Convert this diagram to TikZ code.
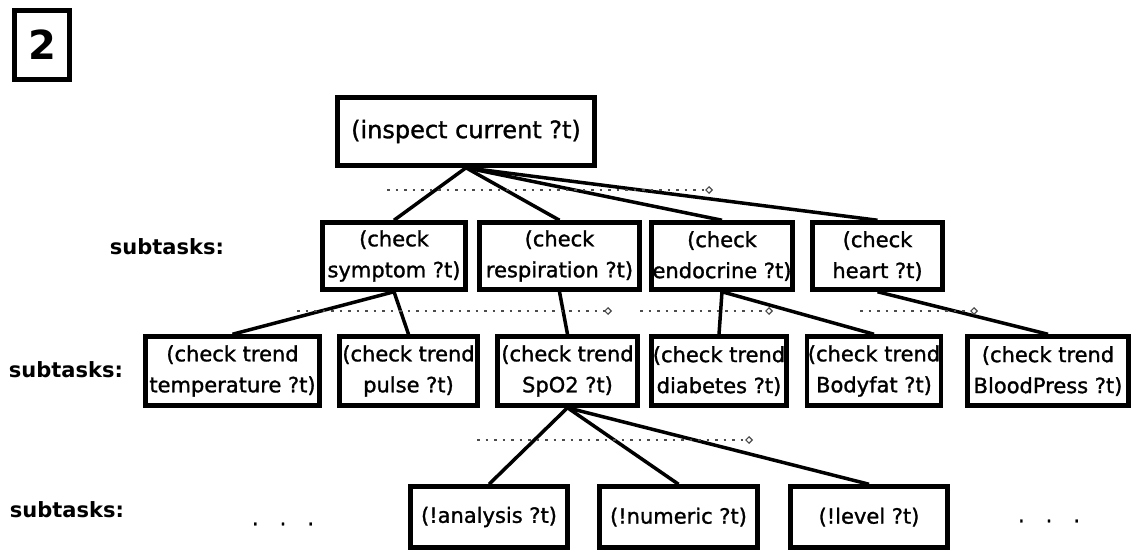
\documentclass[tikz,border=0pt]{standalone}
\usepackage{fontspec}
\setmainfont{DejaVu Sans}
\newfontfamily\heavyfont[FakeBold=1.3]{DejaVu Sans}
\usepackage{tikz}
\usetikzlibrary{calc}
\usetikzlibrary{arrows.meta}
\newcommand{\boxfont}{\heavyfont\fontsize{21}{31}\selectfont}
\newcommand{\rootfont}{\heavyfont\fontsize{24}{30}\selectfont}

\begin{document}
\begin{tikzpicture}[x=1pt,y=-1pt,
    task/.style = {draw, line width=4.5pt, inner sep=1pt, align=center, font=\boxfont},
    link/.style = {line width=3.5pt},
    order/.style = {line width=2pt, black!70, dash pattern=on 2.5pt off 6pt, -{Diamond[open,length=8pt,width=8pt,line width=1.2pt]}},
    tag/.style = {font=\bfseries\fontsize{21}{30}\selectfont}]
\useasboundingbox (0,0) rectangle (1132,552);
\node[draw, line width=5pt, minimum width=55pt, minimum height=69pt, inner sep=0pt, font=\bfseries\fontsize{40}{40}\selectfont] (num2) at (42,45) {2};
\node[task, font=\rootfont, minimum width=257pt, minimum height=68pt] (root) at (466,131.5) {(inspect current ?t)};
\node[task, minimum width=143pt, minimum height=67pt] (sym) at (394,256) {(check\\symptom ?t)};
\node[task, minimum width=160pt, minimum height=67pt] (resp) at (559.5,256) {(check\\respiration ?t)};
\node[task, minimum width=131pt, minimum height=67pt] (endo) at (722,256) {(check\\endocrine ?t)};
\node[task, minimum width=130pt, minimum height=67pt] (heart) at (877.5,256) {(check\\heart ?t)};
\node[task, minimum width=174pt, minimum height=69pt] (tmp) at (232.5,371) {(check trend\\temperature ?t)};
\node[task, minimum width=138pt, minimum height=69pt] (pulse) at (408.5,371) {(check trend\\pulse ?t)};
\node[task, minimum width=140pt, minimum height=69pt] (spo) at (567.5,371) {(check trend\\SpO2 ?t)};
\node[task, minimum width=135pt, minimum height=69pt] (diab) at (719,371) {(check trend\\diabetes ?t)};
\node[task, minimum width=133pt, minimum height=69pt] (bfat) at (874,371) {(check trend\\Bodyfat ?t)};
\node[task, minimum width=161pt, minimum height=69pt] (bp) at (1048,371) {(check trend\\BloodPress ?t)};
\node[task, minimum width=157pt, minimum height=61pt] (ana) at (489,517) {(!analysis ?t)};
\node[task, minimum width=158pt, minimum height=61pt] (numr) at (678.5,517) {(!numeric ?t)};
\node[task, minimum width=157pt, minimum height=61pt] (lev) at (869,517) {(!level ?t)};
\node[tag] (sub1) at (167,247) {subtasks:};
\node[tag] (sub2) at (66,370) {subtasks:};
\node[tag] (sub3) at (67,510) {subtasks:};
\node[font=\boxfont] (moreL) at (283,524) {.\quad.\quad.};
\node[font=\boxfont] (moreR) at (1049,521) {.\quad.\quad.};
\draw[link] (root.south) -- (sym.north);
\draw[link] (root.south) -- (resp.north);
\draw[link] (root.south) -- (endo.north);
\draw[link] (root.south) -- (heart.north);
\draw[link] (sym.south) -- (tmp.north);
\draw[link] (sym.south) -- (pulse.north);
\draw[link] (resp.south) -- (spo.north);
\draw[link] (endo.south) -- (diab.north);
\draw[link] (endo.south) -- (bfat.north);
\draw[link] (heart.south) -- (bp.north);
\draw[link] (spo.south) -- (ana.north);
\draw[link] (spo.south) -- (numr.north);
\draw[link] (spo.south) -- (lev.north);
\coordinate (o1a) at (387,190);
\coordinate (o1b) at (713,190);
\coordinate (o2a) at (297,311);
\coordinate (o2b) at (612,311);
\coordinate (o3a) at (640,311);
\coordinate (o3b) at (773,311);
\coordinate (o4a) at (860,311);
\coordinate (o4b) at (978,311);
\coordinate (o5a) at (477,440);
\coordinate (o5b) at (753,440);
\draw[order] (o1a) -- (o1b);
\draw[order] (o2a) -- (o2b);
\draw[order] (o3a) -- (o3b);
\draw[order] (o4a) -- (o4b);
\draw[order] (o5a) -- (o5b);
\end{tikzpicture}
\end{document}
